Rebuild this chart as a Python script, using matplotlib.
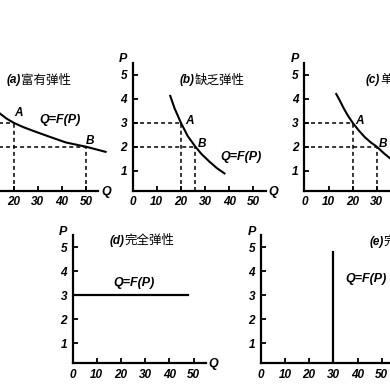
import matplotlib
matplotlib.use("Agg")
import matplotlib.pyplot as plt

plt.rcParams['font.family'] = ['Liberation Sans', 'Noto Sans CJK SC', 'DejaVu Sans']

# ---------------- data ----------------
q_ticks = [0, 10, 20, 30, 40, 50]
p_ticks = [1, 2, 3, 4, 5]

titles_tag = ["(a)", "(b)", "(c)", "(d)", "(e)"]
titles_cn = ["富有弹性", "缺乏弹性", "单位弹性", "完全弹性", "完全无弹性"]

# (a) elastic demand
a_q = [14.3, 17, 20, 24, 27.9, 34.8, 41.6, 50, 58]
a_p = [3.39, 3.18, 3.0, 2.82, 2.67, 2.42, 2.18, 2.0, 1.79]
a_pts = {"A": (20, 3), "B": (50, 2)}

# (b) inelastic demand
b_q = [15.6, 17.4, 20, 22.8, 26, 28.5, 31.8, 35, 38]
b_p = [4.12, 3.6, 3.0, 2.45, 2.0, 1.7, 1.38, 1.1, 0.89]
b_pts = {"A": (20, 3), "B": (26, 2)}

# (c) unit elastic demand
c_q = [13.2, 14.8, 16.3, 18, 20, 22.5, 25, 27.5, 30, 33, 35.7, 40]
c_p = [4.2, 3.9, 3.6, 3.3, 3.0, 2.68, 2.4, 2.18, 2.0, 1.72, 1.5, 1.25]
c_pts = {"A": (20, 3), "B": (30, 2)}

# (d) perfectly elastic
d_q = [0, 47.8]
d_p = [3, 3]

# (e) perfectly inelastic
e_q = [30, 30]
e_p = [0, 4.82]

# ---------------- layout ----------------
W = H = 390
fig = plt.figure(figsize=(3.9, 3.9), dpi=100)
fig.patch.set_facecolor('white')

XMAX, YMIN, YMAX = 55, 0.17, 5.5
PX_Q, PX_P = 2.42, 24.0
aw = XMAX * PX_Q
ah = (YMAX - YMIN) * PX_P

tickfont = dict(family='Liberation Sans', weight='bold', style='italic', size=8.5)


def make_ax(x0, ybot):
    ax = fig.add_axes([x0 / W, 1 - ybot / H, aw / W, ah / H])
    ax.set_xlim(0, XMAX)
    ax.set_ylim(YMIN, YMAX)
    for s in ['top', 'right']:
        ax.spines[s].set_visible(False)
    for s in ['left', 'bottom']:
        ax.spines[s].set_linewidth(1.6)
    ax.set_facecolor('none')
    ax.set_xticks(q_ticks)
    ax.set_yticks(p_ticks)

    # labels that would lie fully outside the cropped picture are left blank
    def inside(px):
        return 3 <= px <= W - 3

    xl = [str(v) if inside(x0 + v * PX_Q) else "" for v in q_ticks]
    show_left = inside(x0 - 8)
    ax.set_xticklabels(xl, fontdict=tickfont)
    ax.set_yticklabels([str(v) if show_left else "" for v in p_ticks], fontdict=tickfont)
    ax.tick_params(direction='in', length=3.5, width=1.3, pad=4)
    if show_left:
        ax.text(-0.068, 1.03, "P", transform=ax.transAxes, ha='center', va='center',
                family='Liberation Sans', weight='bold', style='italic', size=9)
    if inside(x0 + aw + 8):
        ax.text(1.06, -0.008, "Q", transform=ax.transAxes, ha='center', va='center',
                family='Liberation Sans', weight='bold', style='italic', size=9)
    return ax


def title(ax, i, q, p):
    t = ax.text(q, p, titles_tag[i], ha='left', va='center', family='Liberation Sans',
                weight='bold', style='italic', size=8.5)
    ax.annotate(titles_cn[i], xy=(1.0, 0.5), xycoords=t, ha='left', va='center',
                family='Noto Sans CJK SC', size=9)


def qfp(ax, q, p):
    ax.text(q, p, "Q=F(P)", ha='left', va='center', family='Liberation Sans',
            weight='bold', style='italic', size=9)


def dashed(ax, pts):
    for q, p in pts.values():
        ax.plot([0, q], [p, p], color='black', lw=1.1, dashes=(2.6, 2.0))
        ax.plot([q, q], [YMIN, p], color='black', lw=1.1, dashes=(2.6, 2.0))


def label(ax, name, q, p):
    ax.text(q, p, name, ha='left', va='center', family='Liberation Sans',
            weight='bold', style='italic', size=8.5)


# (a)
ax = make_ax(-34.8, 190.7)
dashed(ax, a_pts)
ax.plot(a_q, a_p, color='black', lw=1.5, clip_on=False)
title(ax, 0, 17.3, 4.78)
qfp(ax, 30.6, 3.12)
label(ax, "A", 20.2, 3.42)
label(ax, "B", 49.9, 2.25)

# (b)
ax = make_ax(132.5, 190.7)
dashed(ax, b_pts)
ax.plot(b_q, b_p, color='black', lw=1.5, clip_on=False)
title(ax, 1, 19.6, 4.78)
qfp(ax, 36.2, 1.57)
label(ax, "A", 21.7, 3.09)
label(ax, "B", 26.8, 2.1)

# (c)
ax = make_ax(304.3, 190.7)
dashed(ax, c_pts)
ax.plot(c_q, c_p, color='black', lw=1.5, clip_on=False)
title(ax, 2, 25.5, 4.8)
label(ax, "A", 20.9, 3.09)
label(ax, "B", 30.9, 2.12)

# (d)
ax = make_ax(72.5, 363.3)
ax.plot(d_q, d_p, color='black', lw=1.6)
title(ax, 3, 15.5, 5.28)
qfp(ax, 16.9, 3.53)

# (e)
ax = make_ax(260.7, 363.3)
ax.plot(e_q, e_p, color='black', lw=1.6)
title(ax, 4, 44.9, 5.24)
qfp(ax, 34.8, 3.7)

fig.savefig("out.png", dpi=100, facecolor='white')
